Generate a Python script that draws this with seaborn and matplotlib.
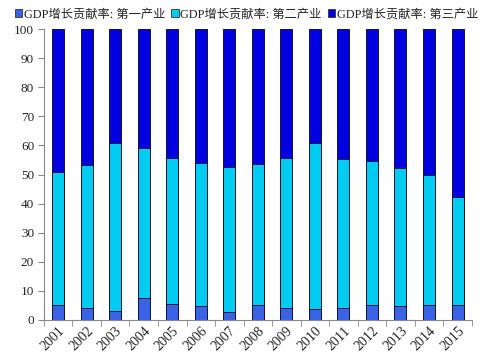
import numpy as np
import pandas as pd
import matplotlib
matplotlib.use("Agg")
import matplotlib.pyplot as plt
import seaborn as sns
from matplotlib.patches import Patch

years = ["2001", "2002", "2003", "2004", "2005", "2006", "2007", "2008",
         "2009", "2010", "2011", "2012", "2013", "2014", "2015"]
primary = [5.0, 4.2, 3.1, 7.6, 5.4, 4.7, 2.7, 5.3, 4.2, 3.9, 4.2, 5.3, 4.7, 5.3, 5.3]
secondary = [45.8, 49.1, 57.7, 51.4, 50.2, 49.2, 49.8, 48.4, 51.5, 57.0, 51.3, 49.2, 47.5, 44.4, 36.9]
tertiary = [49.2, 46.7, 39.2, 41.0, 44.4, 46.1, 47.5, 46.3, 44.3, 39.1, 44.5, 45.5, 47.8, 50.3, 57.8]
labels = ["GDP增长贡献率: 第一产业", "GDP增长贡献率: 第二产业", "GDP增长贡献率: 第三产业"]
colors = ["#3a62e6", "#00ccf2", "#0000e0"]

sns.set_style("white")
plt.rcParams["font.family"] = ["Liberation Serif", "Noto Sans CJK SC"]

df = pd.DataFrame({"year": years, "p": primary, "s": secondary, "t": tertiary})
df["c1"] = df["p"]
df["c2"] = df["p"] + df["s"]
df["c3"] = df["c2"] + df["t"]

fig = plt.figure(figsize=(4.93, 3.64), dpi=100)
ax = fig.add_axes([0.089, 0.121, 0.868, 0.799])

# stacked look: draw cumulative totals, tallest first
for col, c in [("c3", colors[2]), ("c2", colors[1]), ("c1", colors[0])]:
    sns.barplot(data=df, x="year", y=col, color=c, width=0.42, saturation=1,
                edgecolor="#141430", linewidth=0.7, ax=ax)

ax.set_ylim(0, 100)
ax.set_xlim(-0.5, len(years) - 0.5)
ax.set_yticks(range(0, 101, 10))
ax.set_xlabel("")
ax.set_ylabel("")
ax.tick_params(axis="y", labelsize=9.5, length=4, color="#888888", left=True, pad=3)
ax.tick_params(axis="x", which="major", labelsize=10, length=0, pad=3)
ax.set_xticks(np.arange(-0.5, len(years), 1), minor=True)
ax.tick_params(axis="x", which="minor", length=4, color="#888888", bottom=True)
plt.setp(ax.get_xticklabels(), rotation=45, ha="right", rotation_mode="anchor")
for s in ["top", "right"]:
    ax.spines[s].set_visible(False)
for s in ["left", "bottom"]:
    ax.spines[s].set_color("#888888")
    ax.spines[s].set_linewidth(0.8)

handles = [Patch(facecolor=c, edgecolor="#333333", linewidth=0.6) for c in colors]
fig.legend(handles, labels, loc="upper center", bbox_to_anchor=(0.5, 1.0), ncol=3,
           frameon=False, fontsize=8.8, handlelength=0.6, handleheight=0.6,
           handletextpad=0.15, columnspacing=0.5, borderaxespad=0.3)

fig.savefig("out.png", dpi=100)
